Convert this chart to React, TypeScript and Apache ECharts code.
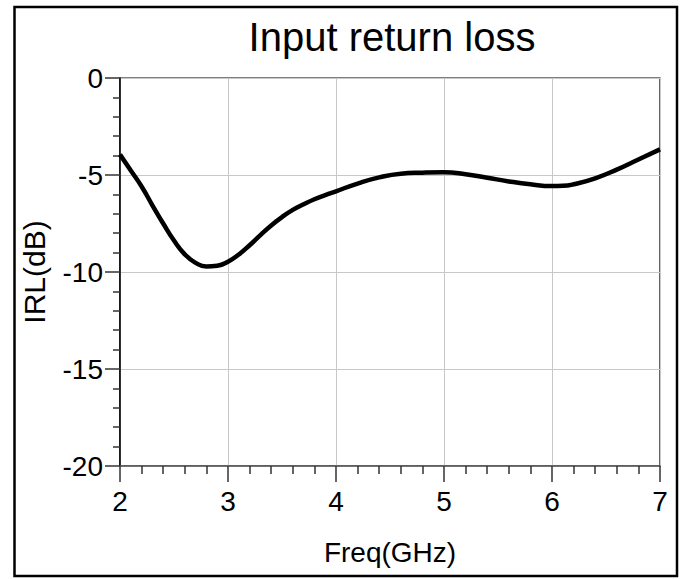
import React, { useEffect, useRef } from "react";
import * as echarts from "echarts";

const freqGHz = [2.0, 2.1, 2.2, 2.3, 2.4, 2.5, 2.6, 2.7, 2.8, 2.9, 3.0, 3.1, 3.2, 3.3, 3.4, 3.5, 3.6, 3.7, 3.8, 3.9, 4.0, 4.2, 4.4, 4.6, 4.8, 5.0, 5.2, 5.4, 5.6, 5.8, 6.0, 6.1, 6.2, 6.4, 6.6, 6.8, 7.0];
const irlDb = [-3.95, -4.77, -5.59, -6.56, -7.5, -8.38, -9.09, -9.53, -9.72, -9.68, -9.47, -9.1, -8.62, -8.1, -7.6, -7.17, -6.8, -6.51, -6.25, -6.04, -5.84, -5.44, -5.12, -4.93, -4.88, -4.86, -4.96, -5.14, -5.33, -5.48, -5.57, -5.56, -5.48, -5.17, -4.72, -4.2, -3.68];

const titleText = "Input return loss";
const xName = "Freq(GHz)";
const yName = "IRL(dB)";

const FONT = "'Liberation Sans', Arial, sans-serif";

export default function App() {
  const ref = useRef<HTMLDivElement>(null);
  useEffect(() => {
    document.body.style.margin = "0";
    const chart = echarts.init(ref.current!, null, { renderer: "svg" });
    const data = freqGHz.map((f, i) => [f, irlDb[i]]);
    chart.setOption({
      animation: false,
      backgroundColor: "#ffffff",
      title: {
        text: titleText,
        left: 387,
        top: 12,
        textAlign: "center",
        textStyle: { fontFamily: FONT, fontSize: 40, fontWeight: "normal", color: "#000" },
      },
      grid: {
        left: 120,
        right: 20,
        top: 78,
        bottom: 113,
        show: true,
        borderColor: "#000",
        borderWidth: 1.2,
      },
      xAxis: {
        type: "value",
        min: 2,
        max: 7,
        interval: 1,
        name: xName,
        nameLocation: "middle",
        nameGap: 72,
        nameTextStyle: { fontFamily: FONT, fontSize: 28, color: "#000" },
        axisLine: { show: true, onZero: false, lineStyle: { color: "#555", width: 1.5 } },
        axisTick: { show: true, length: 16, lineStyle: { color: "#333", width: 1.5 } },
        minorTick: { show: true, splitNumber: 5, length: 8, lineStyle: { color: "#333", width: 1.5 } },
        axisLabel: { margin: 21, fontFamily: FONT, fontSize: 28, color: "#000" },
        splitLine: { show: true, lineStyle: { color: "#c8c8c8", width: 1 } },
      },
      yAxis: {
        type: "value",
        min: -20,
        max: 0,
        interval: 5,
        name: yName,
        nameLocation: "middle",
        nameGap: 71,
        nameRotate: 90,
        nameTextStyle: { fontFamily: FONT, fontSize: 30, color: "#000" },
        axisLine: { show: true, onZero: false, lineStyle: { color: "#000", width: 1.5 } },
        axisTick: { show: true, length: 15, lineStyle: { color: "#333", width: 1.5 } },
        minorTick: { show: true, splitNumber: 5, length: 7, lineStyle: { color: "#333", width: 1.5 } },
        axisLabel: { margin: 17, fontFamily: FONT, fontSize: 28, color: "#000" },
        splitLine: { show: true, lineStyle: { color: "#c8c8c8", width: 1 } },
      },
      graphic: [
        {
          type: "rect",
          shape: { x: 14.5, y: 7, width: 662.5, height: 569 },
          style: { fill: "none", stroke: "#000", lineWidth: 2.5 },
          silent: true,
        },
      ],
      series: [
        {
          type: "line",
          data,
          smooth: true,
          symbol: "none",
          lineStyle: { color: "#000", width: 4.5 },
        },
      ],
    });
    return () => chart.dispose();
  }, []);
  return <div ref={ref} style={{ width: 680, height: 579 }} />;
}
